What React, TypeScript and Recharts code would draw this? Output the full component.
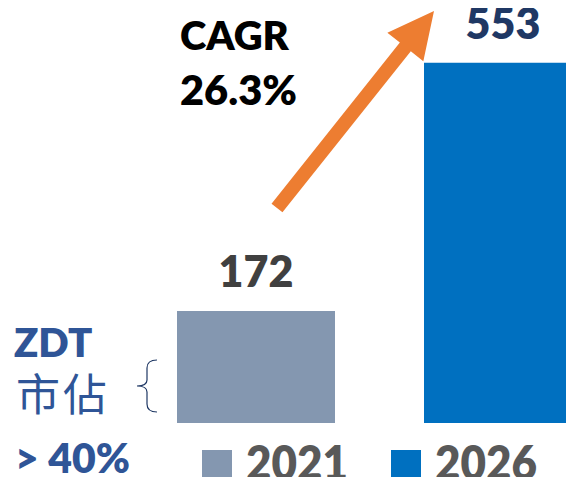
import React from "react"
import { BarChart, Bar, XAxis, YAxis, Cell, LabelList } from "recharts"

const years = ["2021", "2026"]
const values = [172, 553]
const barColors = ["#8497B0", "#0070C0"]
const labelColors = ["#404040", "#1F3864"]
const cagr = "26.3%"
const share = "> 40%"

const data = years.map((year, i) => ({ year, value: values[i] }))

const FONT = "Lato, 'Open Sans', sans-serif"

// arrow polygon from tail/tip, shaft + head sizes
function arrowPoints(tx: number, ty: number, px: number, py: number, shaft: number, headLen: number, headHalf: number) {
  const len = Math.hypot(px - tx, py - ty)
  const ux = (px - tx) / len, uy = (py - ty) / len
  const nx = -uy, ny = ux
  const bx = px - ux * headLen, by = py - uy * headLen
  const pts = [
    [tx + nx * shaft, ty + ny * shaft],
    [bx + nx * shaft, by + ny * shaft],
    [bx + nx * headHalf, by + ny * headHalf],
    [px, py],
    [bx - nx * headHalf, by - ny * headHalf],
    [bx - nx * shaft, by - ny * shaft],
    [tx - nx * shaft, ty - ny * shaft],
  ]
  return pts.map(p => p.join(",")).join(" ")
}

const renderLabel = (props: any) => {
  const { x, y, width, value } = props
  const idx = values.indexOf(Number(value))
  return (
    <text x={Number(x) + Number(width) / 2} y={Number(y) - 24} textAnchor="middle" fill={labelColors[idx]} fontFamily={FONT} fontWeight={800} fontSize={43}>
      {value}
    </text>
  )
}

export default function App() {
  return (
    <div style={{ position: "relative", margin: -8, width: 574, height: 485, background: "#fff" }}>
      <BarChart width={574} height={485} data={data} margin={{ top: 32, right: -52, left: 132, bottom: 62 }}>
        <XAxis dataKey="year" hide />
        <YAxis hide domain={[0, 600]} />
        <Bar dataKey="value" barSize={158} isAnimationActive={false}>
          {data.map((d, i) => (
            <Cell key={d.year} fill={barColors[i]} />
          ))}
          <LabelList dataKey="value" content={renderLabel} />
        </Bar>
      </BarChart>
      <svg width={574} height={485} style={{ position: "absolute", left: 0, top: 0, pointerEvents: "none" }}>
        <polygon points={arrowPoints(277, 208, 434, 11, 7, 46, 23)} fill="#ED7D31" />
        <text x={180} y={50} fontFamily={FONT} fontWeight={800} fontSize={40} fill="#000">CAGR</text>
        <text x={180} y={105} fontFamily={FONT} fontWeight={800} fontSize={41} fill="#000" textLength={117} lengthAdjust="spacingAndGlyphs">{cagr}</text>
        <text x={14} y={357} fontFamily={FONT} fontWeight={800} fontSize={40} fill="#2F5597">ZDT</text>
        <text x={16} y={411} fontFamily="'Noto Sans CJK TC', sans-serif" fontSize={44} letterSpacing={3} fill="#2F5597">市佔</text>
        <text x={15} y={473} fontFamily={FONT} fontWeight={800} fontSize={41} fill="#2F5597" textLength={115} lengthAdjust="spacingAndGlyphs">{share}</text>
        <path d="M157,360 Q147,360 147,368 L147,380 Q147,386 137,386 Q147,386 147,392 L147,404 Q147,412 157,412" fill="none" stroke="#1F3864" strokeWidth={1.2} />
        {years.map((y, i) => (
          <g key={y}>
            <rect x={202 + i * 189} y={450} width={30} height={30} fill={barColors[i]} />
            <text x={246 + i * 189} y={480} fontFamily={FONT} fontWeight={800} fontSize={47} fill="#595959" textLength={102} lengthAdjust="spacingAndGlyphs">{y}</text>
          </g>
        ))}
      </svg>
    </div>
  )
}
